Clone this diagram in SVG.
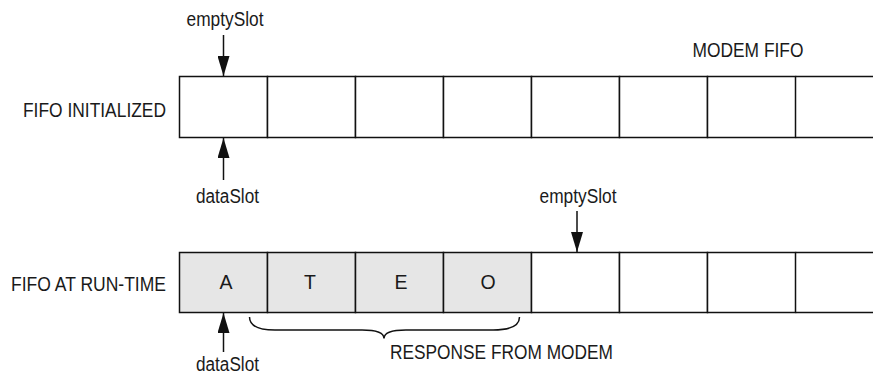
<svg xmlns="http://www.w3.org/2000/svg" width="873" height="377" viewBox="0 0 873 377">
  <style>
    text { font-family: "Liberation Sans", Arial, sans-serif; font-size: 19.5px; fill: #1a1a1a; }
    .cell { fill: #ffffff; stroke: #111111; stroke-width: 1.5; }
    .full { fill: #e6e6e6; }
    .edge { stroke: #111111; stroke-width: 1.5; fill: none; }
    .ptr { stroke: #111111; stroke-width: 1.5; fill: none; marker-end: url(#head); }
    .mid { text-anchor: middle; }
    .end { text-anchor: end; }
  </style>
  <defs>
    <marker id="head" viewBox="0 0 20 12" refX="20" refY="6" markerWidth="20" markerHeight="12" markerUnits="userSpaceOnUse" orient="auto">
      <path d="M0,0 L20,6 L0,12 Z" fill="#111111"/>
    </marker>
  </defs>
  <rect width="873" height="377" fill="#ffffff"/>

  <!-- top FIFO: freshly initialised, all slots empty -->
  <g id="fifo-initialized">
    <text class="end" x="166" y="117" textLength="143" lengthAdjust="spacingAndGlyphs">FIFO INITIALIZED</text>
    <text class="mid" x="748" y="57" textLength="111" lengthAdjust="spacingAndGlyphs">MODEM FIFO</text>
    <rect class="cell" x="179.5" y="76.5" width="88" height="61"/>
    <rect class="cell" x="267.5" y="76.5" width="88" height="61"/>
    <rect class="cell" x="355.5" y="76.5" width="88" height="61"/>
    <rect class="cell" x="443.5" y="76.5" width="88" height="61"/>
    <rect class="cell" x="531.5" y="76.5" width="88" height="61"/>
    <rect class="cell" x="619.5" y="76.5" width="88" height="61"/>
    <rect class="cell" x="707.5" y="76.5" width="88" height="61"/>
    <path class="edge" d="M795.5,76.5 H874 M795.5,137.5 H874"/>
  </g>

  <!-- bottom FIFO: four bytes received -->
  <g id="fifo-runtime">
    <text class="end" x="166" y="291" textLength="155" lengthAdjust="spacingAndGlyphs">FIFO AT RUN-TIME</text>
    <rect class="cell full" x="179.5" y="252.5" width="88" height="60"/>
    <rect class="cell full" x="267.5" y="252.5" width="88" height="60"/>
    <rect class="cell full" x="355.5" y="252.5" width="88" height="60"/>
    <rect class="cell full" x="443.5" y="252.5" width="88" height="60"/>
    <rect class="cell" x="531.5" y="252.5" width="88" height="60"/>
    <rect class="cell" x="619.5" y="252.5" width="88" height="60"/>
    <rect class="cell" x="707.5" y="252.5" width="88" height="60"/>
    <path class="edge" d="M795.5,252.5 H874 M795.5,312.5 H874"/>
    <text class="mid" x="226" y="289">A</text>
    <text class="mid" x="310" y="289">T</text>
    <text class="mid" x="401" y="289">E</text>
    <text class="mid" x="488" y="289">O</text>
  </g>

  <g id="labels">
    <text class="mid" x="225" y="26" textLength="77" lengthAdjust="spacingAndGlyphs">emptySlot</text>
    <text class="mid" x="227.5" y="202.5" textLength="63" lengthAdjust="spacingAndGlyphs">dataSlot</text>
    <text class="mid" x="578" y="202.5" textLength="77" lengthAdjust="spacingAndGlyphs">emptySlot</text>
    <text class="mid" x="227.5" y="371" textLength="63" lengthAdjust="spacingAndGlyphs">dataSlot</text>
    <text x="390" y="359" textLength="223" lengthAdjust="spacingAndGlyphs">RESPONSE FROM MODEM</text>
  </g>

  <!-- pointers and the bracket under the received bytes -->
  <g id="connectors">
    <line class="ptr" x1="223.5" y1="35" x2="223.5" y2="76"/>
    <line class="ptr" x1="223.5" y1="180" x2="223.5" y2="138"/>
    <line class="ptr" x1="577" y1="211" x2="577" y2="252"/>
    <line class="ptr" x1="223.5" y1="352" x2="223.5" y2="313"/>
    <path class="edge" d="M249.5,317 Q249.5,330 275,330 H362 Q384,330 384,338.5 Q384,330 406,330 H493 Q519.5,330 519.5,317"/>
  </g>
</svg>
